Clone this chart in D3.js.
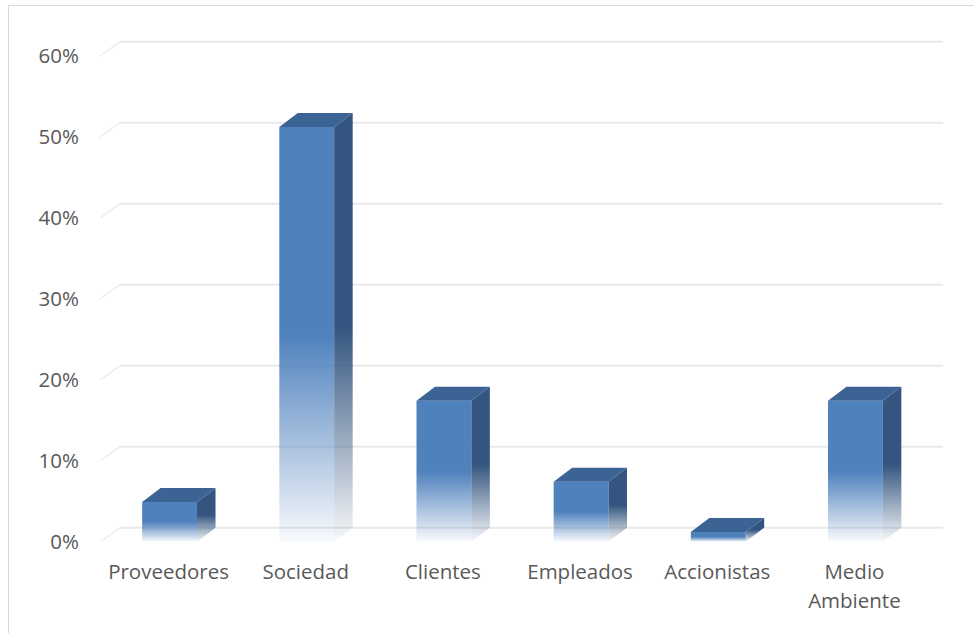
<!DOCTYPE html>
<html>
<head>
<meta charset="utf-8">
<script src="https://cdn.jsdelivr.net/npm/d3@7"></script>
<style>
  html, body { margin: 0; padding: 0; background: #ffffff; }
  svg { display: block; }
</style>
</head>
<body>
<svg id="chart" width="974" height="633"></svg>
<script>
// Chart data
const categories = ["Proveedores", "Sociedad", "Clientes", "Empleados", "Accionistas", "Medio Ambiente"];
const values = [0.049, 0.512, 0.174, 0.074, 0.012, 0.174];
const yTicks = [0, 0.1, 0.2, 0.3, 0.4, 0.5, 0.6];

const svg = d3.select("#chart");
const W = 974, H = 633;

// Back wall extent and the oblique depth of the 3D floor
const wall = { left: 120, right: 943, top: 41.7, bottom: 527.7 };
const floorDepth = { dx: -20, dy: 14.3 };   // back wall -> front edge
const barFront = { dx: -19, dy: 14 };       // back wall -> bar front face
const barDepth = { dx: 18.5, dy: -14 };     // bar front face -> bar back face

const x = d3.scaleBand()
  .domain(categories)
  .range([wall.left, wall.right])
  .paddingInner(0.6)
  .paddingOuter(0.3);

const y = d3.scaleLinear()
  .domain([0, 0.6])
  .range([wall.bottom, wall.top]);

const textColor = "#595959";
const font = "'Open Sans', 'Noto Sans', sans-serif";

// Chart area frame
svg.append("rect")
  .attr("x", 8.5).attr("y", 5.5)
  .attr("width", W + 20).attr("height", H + 20)
  .attr("fill", "none")
  .attr("stroke", "#d9d9d9")
  .attr("stroke-width", 1);

// Gradients: solid on the upper half, fading out toward the floor
const defs = svg.append("defs");
function fadeGradient(id, color) {
  const g = defs.append("linearGradient")
    .attr("id", id)
    .attr("x1", 0).attr("y1", 0).attr("x2", 0).attr("y2", 1);
  g.append("stop").attr("offset", 0).attr("stop-color", color).attr("stop-opacity", 1);
  g.append("stop").attr("offset", 0.5).attr("stop-color", color).attr("stop-opacity", 1);
  g.append("stop").attr("offset", 1).attr("stop-color", color).attr("stop-opacity", 0.04);
}
fadeGradient("frontFade", "#4f81bd");
fadeGradient("sideFade", "#34557f");

// Gridlines on the back wall plus their run across the side wall
const grid = svg.append("g");
yTicks.forEach(t => {
  const yb = y(t);
  grid.append("line")
    .attr("x1", wall.left).attr("x2", wall.right)
    .attr("y1", yb).attr("y2", yb)
    .attr("stroke", "#e9e9e9").attr("stroke-width", 2);
  grid.append("line")
    .attr("x1", wall.left + floorDepth.dx).attr("y1", yb + floorDepth.dy)
    .attr("x2", wall.left).attr("y2", yb)
    .attr("stroke", "#ececec").attr("stroke-width", 1.5);
});

// Y axis tick labels, placed at the front edge of each gridline
svg.append("g").selectAll("text")
  .data(yTicks)
  .join("text")
  .attr("x", 79)
  .attr("y", d => y(d) + floorDepth.dy)
  .attr("dy", "0.36em")
  .attr("text-anchor", "end")
  .attr("font-family", font)
  .attr("font-size", "20.5px")
  .attr("fill", textColor)
  .text(d => d3.format(".0%")(d));

// 3D columns
const bars = svg.append("g");
categories.forEach((c, i) => {
  const w = x.bandwidth();
  const x0 = x(c) + barFront.dx;
  const x1 = x0 + w;
  const yt = y(values[i]) + barFront.dy;
  const yb = y(0) + barFront.dy;
  const dx = barDepth.dx, dy = barDepth.dy;
  const g = bars.append("g");

  // front face
  g.append("rect")
    .attr("x", x0).attr("y", yt)
    .attr("width", w).attr("height", yb - yt)
    .attr("fill", "url(#frontFade)");

  // right side face
  g.append("path")
    .attr("d", `M${x1},${yt} L${x1 + dx},${yt + dy} L${x1 + dx},${yb + dy} L${x1},${yb} Z`)
    .attr("fill", "url(#sideFade)");

  // top face
  g.append("path")
    .attr("d", `M${x0},${yt} L${x1},${yt} L${x1 + dx},${yt + dy} L${x0 + dx},${yt + dy} Z`)
    .attr("fill", "#3b6394");
});

// X axis category labels, wrapped when wider than a category slot
const labels = svg.append("g");
const lineHeight = 28.5;
categories.forEach(c => {
  const cx = x(c) + x.bandwidth() / 2 + floorDepth.dx;
  const t = labels.append("text")
    .attr("x", cx)
    .attr("y", 579)
    .attr("text-anchor", "middle")
    .attr("font-family", font)
    .attr("font-size", "20.5px")
    .attr("fill", textColor)
    .text(c);
  if (t.node().getComputedTextLength() > x.step()) {
    const words = c.split(" ");
    t.text(null);
    words.forEach((wd, k) => {
      t.append("tspan")
        .attr("x", cx)
        .attr("dy", k === 0 ? 0 : lineHeight)
        .text(wd);
    });
  }
});
</script>
</body>
</html>
